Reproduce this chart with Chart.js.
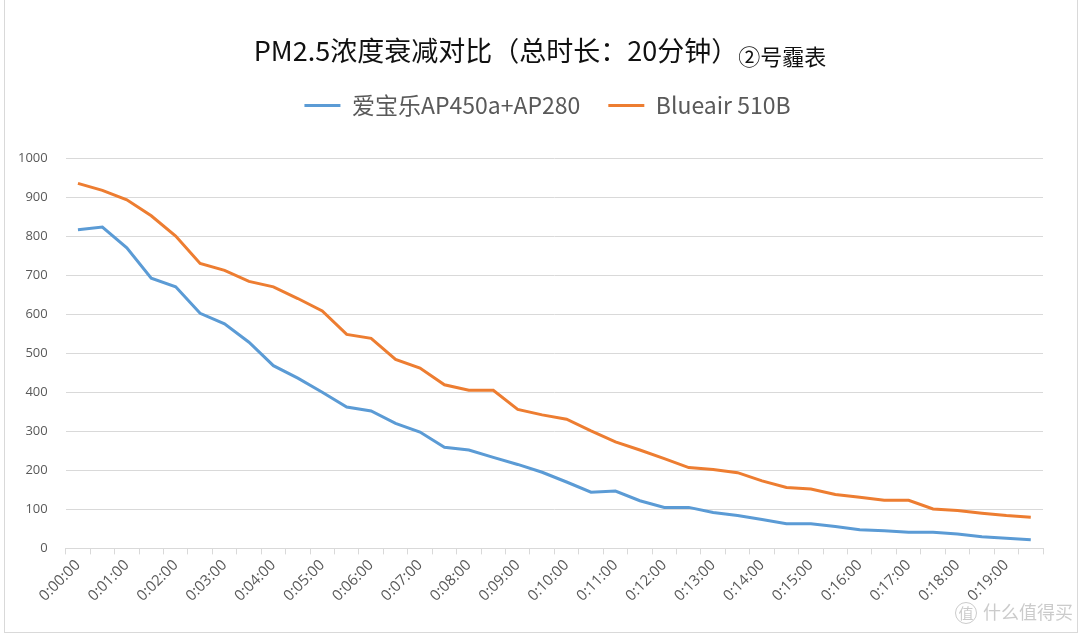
<!DOCTYPE html>
<html>
<head>
<meta charset="utf-8">
<script src="https://cdn.jsdelivr.net/npm/chart.js@4.4.1/dist/chart.umd.min.js"></script>
<style>
  html, body { margin: 0; padding: 0; background: #fff; }
  #wrap { position: relative; width: 1080px; height: 635px; overflow: hidden; }
  #frame { position: absolute; left: 4px; top: -1px; width: 1074px; height: 634px; border: 1px solid #d9d9d9; box-sizing: border-box; pointer-events: none; }
  #title { position: absolute; left: 0; top: 30px; width: 1080px; text-align: center; font-family: "Noto Sans CJK SC", sans-serif; color: #111; white-space: nowrap; }
  #title .main { font-size: 27px; }
  #title .sub { font-size: 22px; position: relative; top: 4px; margin-left: 0px; }
  #wm { position: absolute; left: 955px; top: 598px; font-family: "Noto Sans CJK SC", sans-serif; font-size: 18px; color: rgba(190,190,190,0.8); white-space: nowrap; }
  #wm .c { display: inline-block; width: 20px; height: 20px; line-height: 20px; border: 1.5px solid rgba(190,190,190,0.8); border-radius: 50%; text-align: center; font-size: 15px; margin-right: 6px; }
  canvas { position: absolute; left: 0; top: 0; }
</style>
</head>
<body>
<div id="wrap">
  <canvas id="c" width="1080" height="635"></canvas>
  <div id="title"><span class="main">PM2.5浓度衰减对比（总时长：20分钟）</span><span class="sub">②号霾表</span></div>
  <div id="frame"></div>
  <div id="wm"><span class="c">值</span>什么值得买</div>
</div>
<script>
// Categories: every 30 seconds
const times = [
  "0:00:00","0:00:30","0:01:00","0:01:30","0:02:00","0:02:30","0:03:00","0:03:30",
  "0:04:00","0:04:30","0:05:00","0:05:30","0:06:00","0:06:30","0:07:00","0:07:30",
  "0:08:00","0:08:30","0:09:00","0:09:30","0:10:00","0:10:30","0:11:00","0:11:30",
  "0:12:00","0:12:30","0:13:00","0:13:30","0:14:00","0:14:30","0:15:00","0:15:30",
  "0:16:00","0:16:30","0:17:00","0:17:30","0:18:00","0:18:30","0:19:00","0:19:30"
];
// Tick labels shown on the axis (every minute)
const shownTicks = [
  "0:00:00","0:01:00","0:02:00","0:03:00","0:04:00","0:05:00","0:06:00","0:07:00",
  "0:08:00","0:09:00","0:10:00","0:11:00","0:12:00","0:13:00","0:14:00","0:15:00",
  "0:16:00","0:17:00","0:18:00","0:19:00"
];
const seriesNames = ["爱宝乐AP450a+AP280", "Blueair 510B"];
const aibaole = [
  816, 823, 770, 692, 670, 602, 575, 528,
  468, 436, 400, 362, 352, 320, 298, 259,
  252, 233, 215, 195, 170, 144, 147, 122,
  105, 105, 92, 84, 74, 63, 63, 56,
  48, 45, 41, 41, 37, 30, 26, 22
];
const blueair = [
  935, 917, 893, 852, 800, 730, 712, 684,
  670, 640, 608, 548, 538, 484, 462, 419,
  405, 405, 356, 342, 331, 301, 273, 252,
  230, 207, 202, 194, 173, 156, 152, 138,
  131, 123, 123, 101, 97, 90, 84, 80
];
const yTicks = [0, 100, 200, 300, 400, 500, 600, 700, 800, 900, 1000];

const gridColor = "#d9d9d9";
const textColor = "#595959";

const legendTweak = {
  id: "legendTweak",
  beforeInit(chart) {
    const lg = chart.legend;
    if (!lg) return;
    const origFit = lg.fit;
    lg.fit = function () {
      origFit.call(this);
      this.height += 31;
    };
    const origDraw = lg.draw;
    lg.draw = function () {
      const ctx = this.ctx;
      ctx.save();
      ctx.translate(26, 0);
      origDraw.call(this);
      ctx.restore();
    };
  }
};

new Chart(document.getElementById("c"), {
  type: "line",
  data: {
    labels: times,
    datasets: [
      { label: seriesNames[0], data: aibaole, borderColor: "#5B9BD5", backgroundColor: "#5B9BD5", borderWidth: 3, pointRadius: 0, tension: 0, fill: false },
      { label: seriesNames[1], data: blueair, borderColor: "#ED7D31", backgroundColor: "#ED7D31", borderWidth: 3, pointRadius: 0, tension: 0, fill: false }
    ]
  },
  plugins: [legendTweak],
  options: {
    responsive: false,
    animation: false,
    events: [],
    layout: { padding: { top: 66, left: 0, right: 37, bottom: 28 } },
    plugins: {
      tooltip: { enabled: false },
      title: { display: false },
      legend: {
        display: true,
        position: "top",
        labels: {
          usePointStyle: true,
          pointStyle: "line",
          pointStyleWidth: 36,
          color: textColor,
          font: { family: "'Noto Sans CJK SC', sans-serif", size: 23 },
          padding: 28
        }
      }
    },
    scales: {
      x: {
        type: "category",
        offset: true,
        afterFit: function (s) { s.paddingLeft = 0; s.paddingRight = 0; },
        grid: { display: true, drawOnChartArea: false, drawTicks: true, tickLength: 6, color: gridColor, offset: true },
        border: { display: true, color: gridColor, width: 1 },
        ticks: {
          autoSkip: false,
          maxRotation: 45,
          minRotation: 45,
          color: textColor,
          padding: 2,
          font: { family: "'Open Sans', sans-serif", size: 15 },
          callback: function (val, idx) {
            const lab = times[idx];
            return shownTicks.indexOf(lab) >= 0 ? lab : "";
          }
        }
      },
      y: {
        min: 0,
        max: 1000,
        afterBuildTicks: function (axis) { axis.ticks = yTicks.map(v => ({ value: v })); },
        grid: { color: gridColor, drawTicks: false, lineWidth: 1 },
        border: { display: false },
        ticks: {
          color: textColor,
          padding: 18,
          font: { family: "'Open Sans', sans-serif", size: 13 },
          callback: function (v) { return String(v); }
        }
      }
    }
  }
});
</script>
</body>
</html>
